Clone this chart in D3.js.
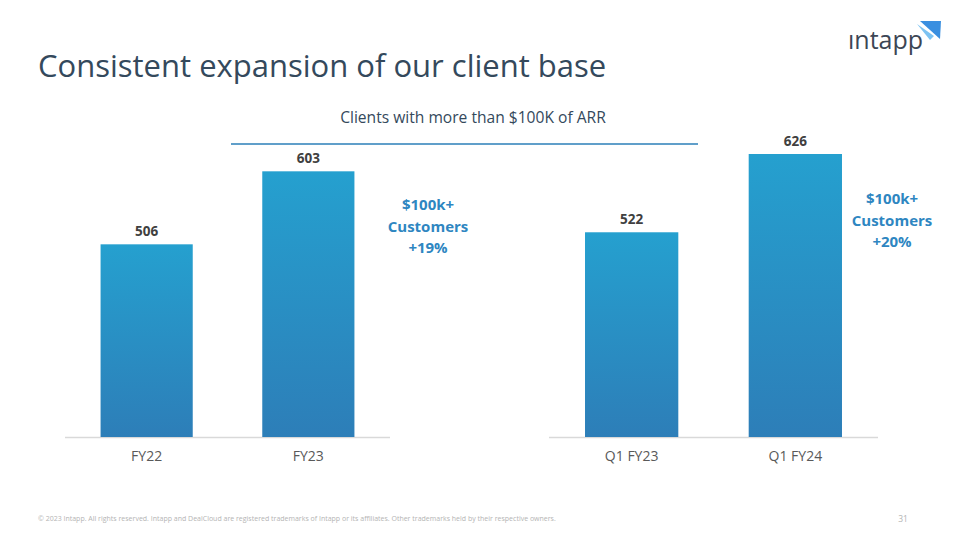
<!DOCTYPE html>
<html>
<head>
<meta charset="utf-8">
<script src="https://cdn.jsdelivr.net/npm/d3@7"></script>
<style>
  html, body { margin: 0; padding: 0; background: #fff; }
  svg { display: block; font-family: 'Open Sans', sans-serif; }
</style>
</head>
<body>
<div id="chart"></div>
<script>
const leftCats = ['FY22', 'FY23']
const leftVals = [506, 603]
const rightCats = ['Q1 FY23', 'Q1 FY24']
const rightVals = [522, 626]
const leftNote = ['$100k+', 'Customers', '+19%']
const rightNote = ['$100k+', 'Customers', '+20%']

const W = 960, H = 540
const base = 437

const svg = d3.select('#chart').append('svg')
  .attr('width', W).attr('height', H)

const defs = svg.append('defs')
const grad = defs.append('linearGradient')
  .attr('id', 'barGrad').attr('x1', 0).attr('y1', 0).attr('x2', 0).attr('y2', 1)
grad.append('stop').attr('offset', '0%').attr('stop-color', '#25a0cf')
grad.append('stop').attr('offset', '100%').attr('stop-color', '#2d7eb8')

// shared value scale (axis does not start at zero)
const y = d3.scaleLinear().domain([250, 626]).range([base, 154])

// title
svg.append('text')
  .attr('x', 38).attr('y', 77)
  .attr('fill', '#34495c')
  .attr('font-size', 31)
  .text('Consistent expansion of our client base')

// subtitle and rule
svg.append('text')
  .attr('x', 473).attr('y', 123)
  .attr('text-anchor', 'middle')
  .attr('fill', '#34495c')
  .attr('font-size', 15.6)
  .text('Clients with more than $100K of ARR')
svg.append('line')
  .attr('x1', 231).attr('x2', 698).attr('y1', 144).attr('y2', 144)
  .attr('stroke', '#2b7fb8').attr('stroke-width', 1.5)

function panel(cats, vals, x0, x1, note, noteX, noteY) {
  const x = d3.scaleBand().domain(cats).range([x0, x1])
    .paddingInner(0.43).paddingOuter(0.22)
  const g = svg.append('g')

  g.append('line')
    .attr('x1', x0).attr('x2', x1).attr('y1', base + 0.5).attr('y2', base + 0.5)
    .attr('stroke', '#d9d9d9').attr('stroke-width', 1.5)

  g.selectAll('.bar').data(vals).enter()
    .append('rect')
      .attr('x', (d, i) => x(cats[i]))
      .attr('width', x.bandwidth())
      .attr('y', d => y(d))
      .attr('height', d => base - y(d))
      .attr('fill', 'url(#barGrad)')

  g.selectAll('.val').data(vals).enter()
    .append('text')
      .attr('x', (d, i) => x(cats[i]) + x.bandwidth() / 2)
      .attr('y', d => y(d) - 8)
      .attr('text-anchor', 'middle')
      .attr('font-size', 13.5)
      .attr('font-weight', 700)
      .attr('fill', '#404040')
      .text(d => d)

  const ax = g.append('g')
    .attr('transform', `translate(0,${base})`)
    .call(d3.axisBottom(x).tickSize(0).tickPadding(14))
  ax.select('.domain').remove()
  ax.selectAll('text')
    .attr('font-family', "'Open Sans', sans-serif")
    .attr('font-size', 14)
    .attr('fill', '#595959')

  g.append('text')
    .attr('x', noteX).attr('y', noteY)
    .attr('text-anchor', 'middle')
    .attr('font-size', 15)
    .attr('font-weight', 700)
    .attr('fill', '#2e86c1')
    .selectAll('tspan').data(note).enter()
    .append('tspan')
      .attr('x', noteX)
      .attr('dy', (d, i) => i ? 21.5 : 0)
      .text(d => d)
}

panel(leftCats, leftVals, 65, 390, leftNote, 428, 210)
panel(rightCats, rightVals, 549, 878, rightNote, 892, 204)

// footer
svg.append('text')
  .attr('x', 38).attr('y', 521)
  .attr('font-size', 7)
  .attr('fill', '#b4b4b4')
  .text('© 2023 Intapp. All rights reserved. Intapp and DealCloud are registered trademarks of Intapp or its affiliates. Other trademarks held by their respective owners.')
svg.append('text')
  .attr('x', 903).attr('y', 522)
  .attr('text-anchor', 'middle')
  .attr('font-size', 8.5)
  .attr('fill', '#b4b4b4')
  .text('31')

// logo
const logo = svg.append('g')
logo.append('text')
  .attr('x', 848).attr('y', 49)
  .attr('font-size', 25)
  .attr('font-weight', 500)
  .attr('fill', '#3c4655')
  .text('ıntapp')
logo.append('path')
  .attr('d', 'M920,21 L941,21 L940,39 Z')
  .attr('fill', '#3a8fe0')
logo.append('path')
  .attr('d', 'M917,24 L934,36 L930,40 Z')
  .attr('fill', '#7dc3f2')
</script>
</body>
</html>
